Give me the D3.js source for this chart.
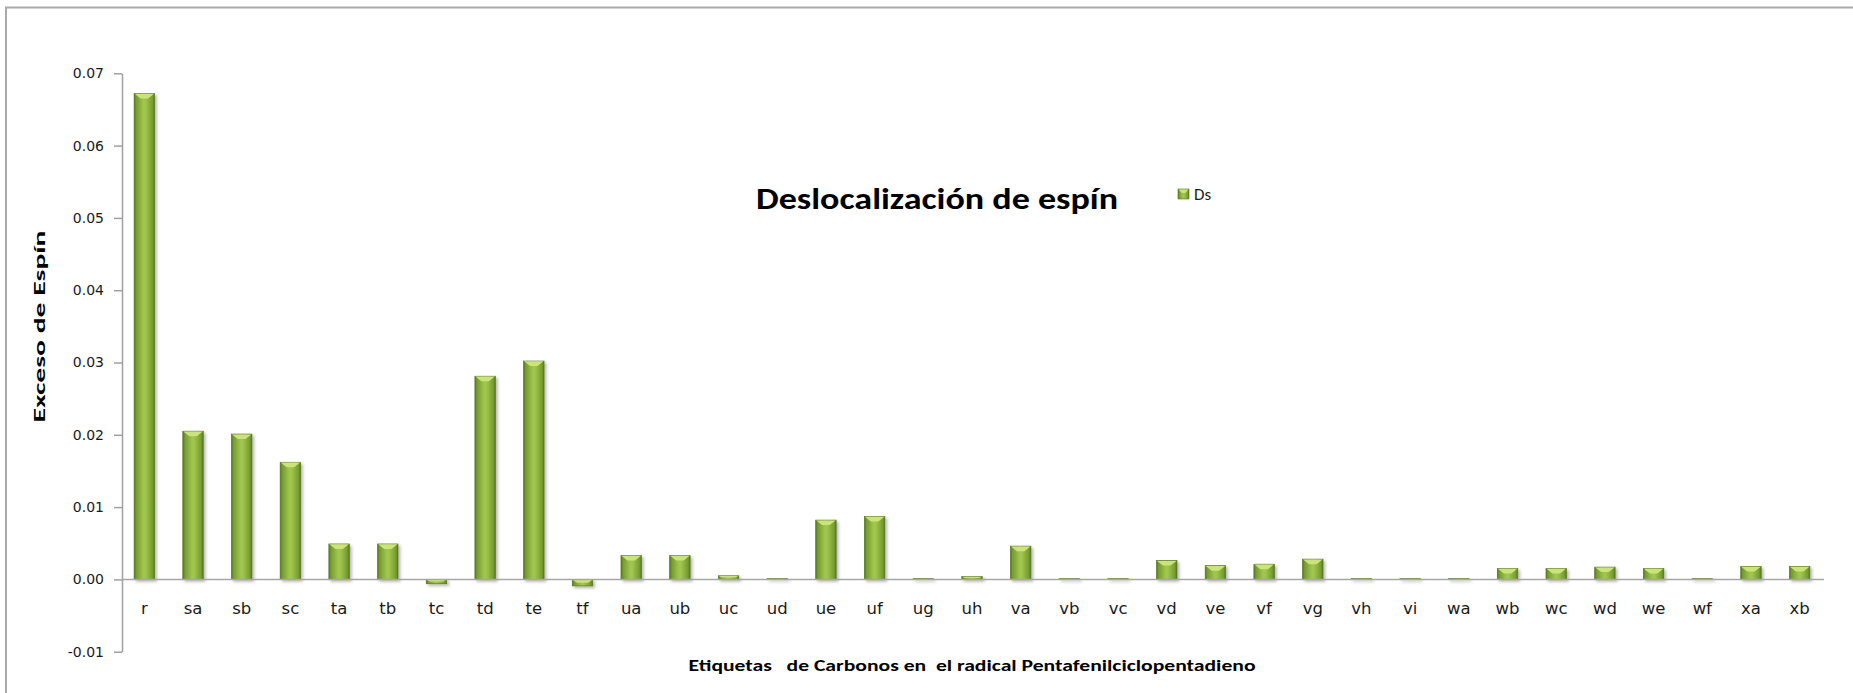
<!DOCTYPE html>
<html>
<head>
<meta charset="utf-8">
<script src="https://cdn.jsdelivr.net/npm/d3@7/dist/d3.min.js"></script>
<style>
  html, body { margin: 0; padding: 0; background: #ffffff; }
  svg { display: block; }
</style>
</head>
<body>
<svg id="chart" width="1853" height="693"></svg>
<script>
// Carbon labels in the pentaphenylcyclopentadienyl radical
const categories = ["r","sa","sb","sc","ta","tb","tc","td","te","tf","ua","ub","uc","ud","ue","uf","ug","uh","va","vb","vc","vd","ve","vf","vg","vh","vi","wa","wb","wc","wd","we","wf","xa","xb"];

// Spin excess (Ds) per carbon
const dsValues = [0.0672,0.0205,0.0201,0.0162,0.0049,0.0049,-0.0006,0.0281,0.0302,-0.0009,0.0033,0.0033,0.0005,0.0001,0.0082,0.0087,0.0001,0.0004,0.0046,0.0001,0.0001,0.0026,0.0019,0.0021,0.0028,0.0001,0.0001,0.0001,0.0015,0.0015,0.0017,0.0015,0.0001,0.0018,0.0018];

const yTicks = [-0.01, 0.00, 0.01, 0.02, 0.03, 0.04, 0.05, 0.06, 0.07];

const seriesName = "Ds";
const chartTitle = "Deslocalización de espín";
const yTitle = "Exceso de Espín";
const xTitle = "Etiquetas   de Carbonos en  el radical Pentafenilciclopentadieno";

const svg = d3.select("#chart");

// ---- defs: bevelled green fill and soft shadow ----
const defs = svg.append("defs");
const grad = defs.append("linearGradient").attr("id", "barFill")
  .attr("x1", "0%").attr("x2", "100%").attr("y1", "0%").attr("y2", "0%");
[["0%", "#56761f"], ["10%", "#769b30"], ["45%", "#a0c64e"], ["55%", "#a0c64e"], ["90%", "#769b30"], ["100%", "#56761f"]]
  .forEach(([o, c]) => grad.append("stop").attr("offset", o).attr("stop-color", c));

const flt = defs.append("filter").attr("id", "shadow")
  .attr("x", "-30%").attr("y", "-30%").attr("width", "160%").attr("height", "160%");
flt.append("feDropShadow").attr("dx", 2).attr("dy", 2).attr("stdDeviation", 1.6)
  .attr("flood-color", "#000").attr("flood-opacity", 0.28);

// ---- outer frame ----
svg.append("path")
  .attr("d", "M6,700 L6,7.5 L1860,7.5")
  .attr("fill", "none").attr("stroke", "#a9a9a9").attr("stroke-width", 2);

// ---- scales ----
const x = d3.scaleBand()
  .domain(categories)
  .range([120, 1824])
  .paddingInner(0.58)
  .paddingOuter(0.29);

const y = d3.scaleLinear()
  .domain([-0.01, 0.07])
  .range([651.7, 73.3]);

// ---- y axis ----
const fmt = d3.format(".2f");
const yAxis = svg.append("g")
  .attr("transform", "translate(122,0)")
  .call(d3.axisLeft(y).tickValues(yTicks)
    .tickFormat(d => fmt(d).replace("\u2212", "-"))
    .tickSize(8).tickPadding(10).tickSizeOuter(0));
yAxis.select(".domain").attr("stroke", "#a0a0a0").attr("stroke-width", 1.5);
yAxis.selectAll(".tick line").attr("stroke", "#a0a0a0").attr("stroke-width", 1.5);
yAxis.selectAll(".tick text")
  .attr("font-family", "'DejaVu Sans', Verdana, sans-serif")
  .attr("font-size", 14).attr("fill", "#1a1a1a");

// ---- bars ----
const bars = svg.append("g").attr("filter", "url(#shadow)");
const data = categories.map((c, i) => ({ c, v: dsValues[i] }));

bars.selectAll("rect.bar").data(data).join("rect")
  .attr("class", "bar")
  .attr("x", d => x(d.c))
  .attr("y", d => Math.min(y(d.v), y(0)))
  .attr("width", x.bandwidth())
  .attr("height", d => Math.max(0.8, Math.abs(y(d.v) - y(0))))
  .attr("fill", "url(#barFill)")
  .attr("stroke", "#56761f").attr("stroke-width", 0.7);

// light bevel at the top face of each bar
bars.selectAll("path.bevel").data(data).join("path")
  .attr("class", "bevel")
  .attr("d", d => {
    const x0 = x(d.c), w = x.bandwidth();
    const top = Math.min(y(d.v), y(0));
    const h = Math.abs(y(d.v) - y(0));
    const b = Math.min(5, h / 2);
    if (b < 0.6) return "";
    return `M${x0 + 0.5},${top + 0.3} L${x0 + w - 0.5},${top + 0.3} L${x0 + w - b - 1.5},${top + b} L${x0 + b + 1.5},${top + b} Z`;
  })
  .attr("fill", "#c9e47a");

// ---- x axis line ----
svg.append("line")
  .attr("x1", 122).attr("x2", 1824)
  .attr("y1", y(0)).attr("y2", y(0))
  .attr("stroke", "#a6a6a6").attr("stroke-width", 1.5);

// ---- category labels ----
svg.append("g").selectAll("text").data(categories).join("text")
  .attr("x", d => x(d) + x.bandwidth() / 2)
  .attr("y", 614)
  .attr("text-anchor", "middle")
  .attr("font-family", "'DejaVu Sans', Verdana, sans-serif")
  .attr("font-size", 16.5)
  .attr("fill", "#1a1a1a")
  .text(d => d);

// ---- titles ----
svg.append("text")
  .attr("x", 937).attr("y", 209)
  .attr("text-anchor", "middle")
  .attr("font-family", "Carlito, Lato, 'Open Sans', sans-serif")
  .attr("font-weight", "bold").attr("font-size", 31)
  .attr("textLength", 362).attr("lengthAdjust", "spacingAndGlyphs")
  .attr("fill", "#000")
  .text(chartTitle);

svg.append("text")
  .attr("transform", "translate(45,326.5) rotate(-90)")
  .attr("text-anchor", "middle")
  .attr("font-family", "Carlito, Lato, 'Open Sans', sans-serif")
  .attr("font-weight", "bold").attr("font-size", 16)
  .attr("textLength", 192).attr("lengthAdjust", "spacingAndGlyphs")
  .attr("fill", "#000")
  .text(yTitle);

svg.append("text")
  .attr("x", 972).attr("y", 671)
  .attr("text-anchor", "middle")
  .attr("font-family", "Carlito, Lato, 'Open Sans', sans-serif")
  .attr("font-weight", "bold").attr("font-size", 16)
  .attr("textLength", 567).attr("lengthAdjust", "spacingAndGlyphs")
  .attr("xml:space", "preserve").style("white-space", "pre")
  .attr("fill", "#000")
  .text(xTitle);

// ---- legend ----
const legend = svg.append("g").attr("transform", "translate(1178,189)");
legend.append("rect")
  .attr("width", 11).attr("height", 10)
  .attr("fill", "url(#barFill)").attr("stroke", "#56761f").attr("stroke-width", 0.6);
legend.append("path")
  .attr("d", "M0.5,0.5 L10.5,0.5 L7,4 L4,4 Z").attr("fill", "#c9e47a");
legend.append("text")
  .attr("x", 16).attr("y", 11)
  .attr("font-family", "Carlito, Lato, 'Open Sans', sans-serif")
  .attr("font-size", 17).attr("fill", "#1a1a1a")
  .text(seriesName);
</script>
</body>
</html>
